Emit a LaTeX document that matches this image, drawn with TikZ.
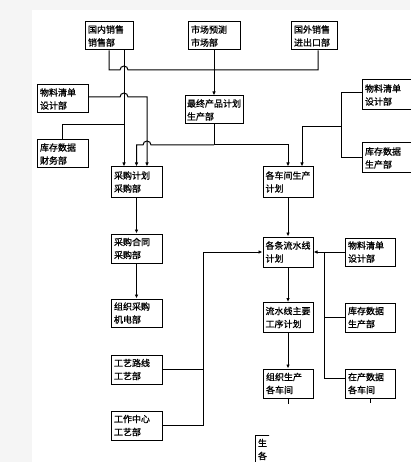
\documentclass[tikz,border=0pt]{standalone}
\usepackage{fontspec}
\newfontfamily\cjk{Noto Sans CJK SC}[FakeBold=1]
\usetikzlibrary{arrows.meta}

\begin{document}
\begin{tikzpicture}
  [x=1pt,y=-1pt,line width=1pt,
   box/.style={draw,rectangle,text width=45pt,inner xsep=3pt,inner ysep=2pt,
     minimum height=29pt,align=left,font=\cjk\fontsize{9}{13}\selectfont},
   arr/.style={-{Latex[length=4pt,width=3.5pt]}}]
  \useasboundingbox (0,0) rectangle (410,462);
  \fill[black!4] (0,0) rectangle (410,10);
  \fill[black!4] (0,10) rectangle (32,462);

  \node[box,text width=42pt,minimum height=28pt] (dom) at (109,36) {国内销售\\销售部};
  \node[box,text width=46pt,minimum height=28pt] (mkt) at (214,36) {市场预测\\市场部};
  \node[box,text width=40pt,minimum height=28pt] (exp) at (314,36) {国外销售\\进出口部};
  \node[box,minimum height=28pt] (bomL) at (62.5,99) {物料清单\\设计部};
  \node[box,minimum height=28pt] (fin) at (62.5,154) {库存数据\\财务部};
  \node[box,text width=54pt,inner xsep=2pt,minimum height=28pt] (final) at (214,110) {最终产品计划\\生产部};
  \node[box,text width=44pt,minimum height=30pt] (bomR) at (387,95) {物料清单\\设计部};
  \node[box,text width=44pt,minimum height=30pt] (stkR) at (387,158) {库存数据\\生产部};

  \node[box,minimum height=30pt] (purplan) at (136.5,182) {采购计划\\采购部};
  \node[box,minimum height=29pt] (contract) at (136.5,248.5) {采购合同\\采购部};
  \node[box,minimum height=28pt] (purorg) at (136.5,313) {组织采购\\机电部};
  \node[box] (route) at (136.5,369.5) {工艺路线\\工艺部};
  \node[box] (wc) at (136.5,425.5) {工作中心\\工艺部};

  \node[box,text width=45pt,inner xsep=2.5pt,minimum height=30pt] (wsplan) at (288,182) {各车间生产\\计划};
  \node[box,text width=45pt,inner xsep=2.5pt,minimum height=30pt] (lineplan) at (288,252) {各条流水线\\计划};
  \node[box,text width=45pt,inner xsep=2.5pt,minimum height=30pt] (procplan) at (288,317.5) {流水线主要\\工序计划};
  \node[box,text width=44pt] (prod) at (288,383.5) {组织生产\\各车间};

  \node[box,text width=44pt,minimum height=28pt] (bomM) at (370,252) {物料清单\\设计部};
  \node[box,text width=44pt] (stkM) at (370,317.5) {库存数据\\生产部};
  \node[box,text width=44pt] (wip) at (370,383.5) {在产数据\\各车间};

  \begin{scope}
    \clip (250,430) rectangle (269,462);
    \node[box,text width=44pt] (cut) at (280,449.5) {生\\各};
  \end{scope}

  % sales side
  \draw (dom.south) -- (109,70) -- (120,70) arc[start angle=180,end angle=0,radius=4pt]
    -- (318,70) -- ([xshift=4pt]exp.south);
  \draw[arr] ([xshift=15pt]dom.south) -- ([xshift=-12.5pt]purplan.north);
  \draw[arr] ([yshift=2pt]bomL.east) -- (120,97) arc[start angle=180,end angle=0,radius=4pt]
    -- (147,97) -- ([xshift=10.5pt]purplan.north);
  \draw (fin.north) |- (124,125);
  \draw[arr] (final.south) -- (214,145) -| (wsplan.north);
  \draw[arr] (214,145) -- (151,145) arc[start angle=0,end angle=180,radius=4pt]
    -- (136.5,145) -- (purplan.north);

  % production side
  \draw ([yshift=2pt]bomR.west) -- (341,93) |- (stkR.west);
  \draw[arr] (341,127) -| ([xshift=14pt]wsplan.north);

  \foreach \from/\to in {mkt/final, purplan/contract, contract/purorg,
    wsplan/lineplan, lineplan/procplan, procplan/prod}
    \draw[arr] (\from.south) -- (\to.north);

  \draw[arr] (bomM.west) -- (lineplan.east);
  \draw (324,252) |- ([yshift=5pt]wip.west);
  \draw (stkM.west) -- (324,317.5);
  \draw[arr] (wc.east) -| (203,252) -- (lineplan.west);
  \draw (route.east) -- (203,369.5);
  \draw (prod.south) -- ++(0,5);
  \draw (wip.south) -- ++(0,4);

\end{tikzpicture}
\end{document}
